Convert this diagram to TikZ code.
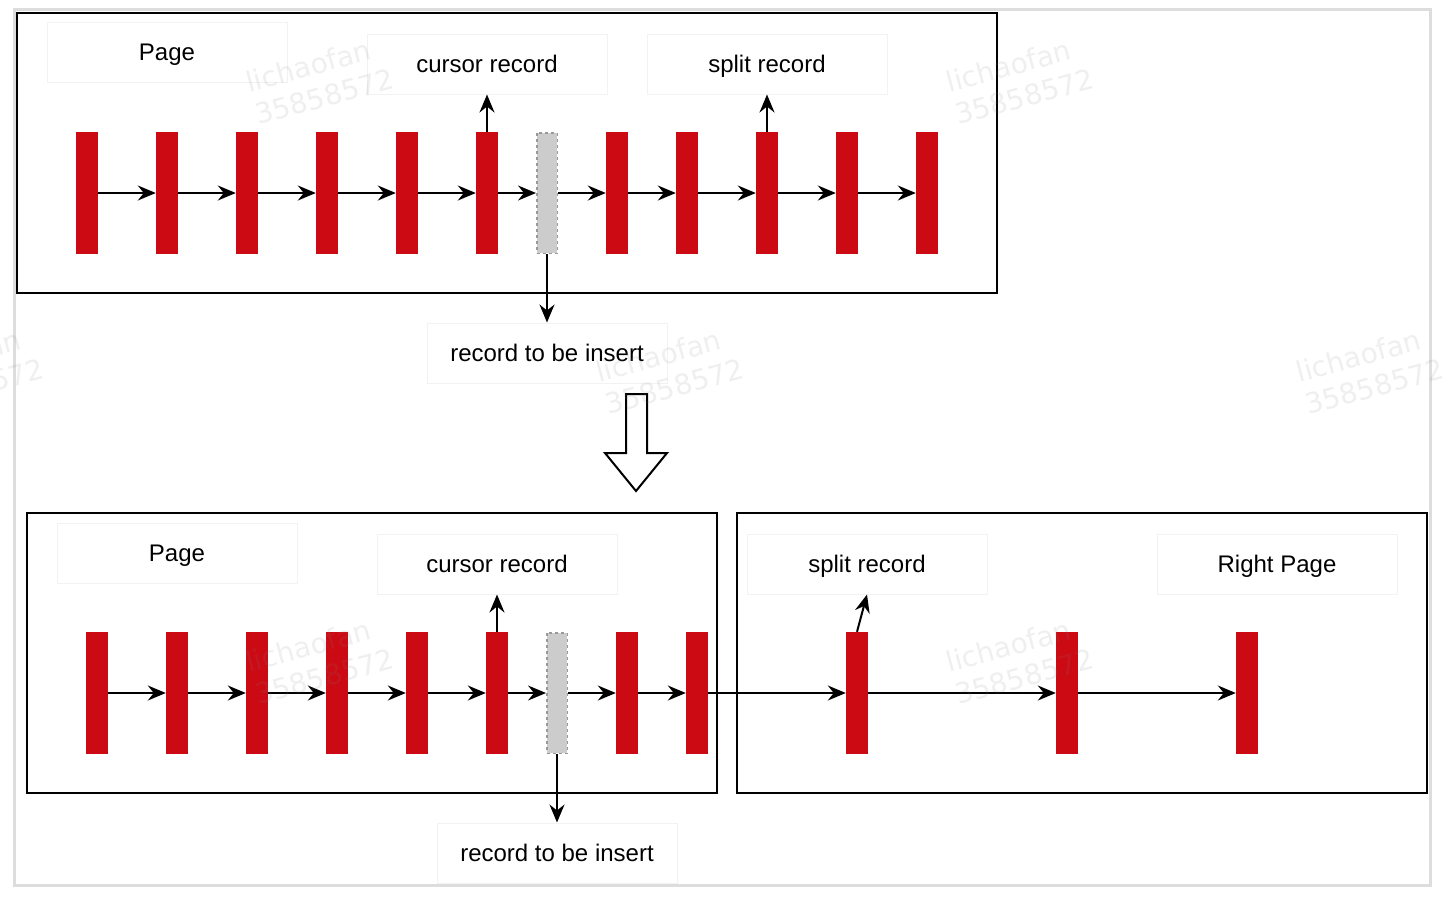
\documentclass[tikz,border=0pt]{standalone}
\usepackage{fontspec}
\setmainfont{Liberation Sans}
\newfontfamily\wmfont{DejaVu Sans}
\usetikzlibrary{arrows.meta}

\definecolor{recred}{HTML}{CC0A14}
\definecolor{newgray}{HTML}{CCCCCC}
\definecolor{newedge}{HTML}{999999}
\definecolor{framegray}{HTML}{DDDDDD}
\definecolor{lblgray}{HTML}{F2F2F2}

\tikzset{
  rec/.style={fill=recred, draw=none, minimum width=22pt, minimum height=122pt, inner sep=0pt},
  newrec/.style={fill=newgray, draw=newedge, dashed, line width=1.5pt, minimum width=20.5pt, minimum height=120.5pt, inner sep=0pt},
  pagebox/.style={draw=black, line width=2pt},
  lbl/.style={draw=lblgray, line width=1pt, minimum width=240pt, minimum height=60pt, inner sep=0pt,
    text height=17.2pt, text depth=0pt, font=\fontsize{24}{28}\selectfont},
  link/.style={-{Stealth[length=18pt,width=15pt,inset=6pt]}, line width=2pt},
  wmark/.style={text=gray, text opacity=0.12, rotate=15, align=left, font=\wmfont\fontsize{28}{34}\selectfont}
}

\begin{document}
\begin{tikzpicture}[x=1pt, y=-1pt]
\useasboundingbox (0,0) rectangle (1446,898);
\fill[white] (0,0) rectangle (1446,898);
\draw[framegray, line width=3pt] (14.5,9.5) rectangle (1430.5,885.5);

% page before the split
\draw[pagebox] (17,13) rectangle (997,293);
\node[lbl] (PageA) at (167,52) {Page};
\node[lbl] (CurA) at (487,64) {cursor record};
\node[lbl] (SplitA) at (767,64) {split record};
\node[lbl] (InsA) at (547,353) {record to be insert};
\foreach \n/\x in {A1/87,A2/167,A3/247,A4/327,A5/407,A6/487,A8/617,A9/687,A10/767,A11/847,A12/927}
  \node[rec] (\n) at (\x,193) {};
\node[newrec] (A7) at (547,193) {};
\foreach \a/\b in {A1/A2,A2/A3,A3/A4,A4/A5,A5/A6,A6/A7,A7/A8,A8/A9,A9/A10,A10/A11,A11/A12}
  \draw[link] (\a) -- (\b);
\draw[link] (A6.north) -- (CurA.south);
\draw[link] (A10.north) -- (SplitA.south);
\draw[link] (A7.south) -- (InsA.north);

% hollow arrow
\draw[line width=2pt, fill=white, line join=miter] (626,394) -- (647,394) -- (647,453) -- (667,453)
  -- (636,491) -- (605,453) -- (626,453) -- cycle;

% pages after the split
\draw[pagebox] (27,513) rectangle (717,793);
\draw[pagebox] (737,513) rectangle (1427,793);
\node[lbl] (PageB) at (177,553) {Page};
\node[lbl] (CurB) at (497,564) {cursor record};
\node[lbl] (SplitB) at (867,564) {split record};
\node[lbl] (RightB) at (1277,564) {Right Page};
\node[lbl] (InsB) at (557,853) {record to be insert};
\foreach \n/\x in {B1/97,B2/177,B3/257,B4/337,B5/417,B6/497,B8/627,B9/697,R1/857,R2/1067,R3/1247}
  \node[rec] (\n) at (\x,693) {};
\node[newrec] (B7) at (557,693) {};
\foreach \a/\b in {B1/B2,B2/B3,B3/B4,B4/B5,B5/B6,B6/B7,B7/B8,B8/B9,B9/R1,R1/R2,R2/R3}
  \draw[link] (\a) -- (\b);
\draw[link] (B6.north) -- (CurB.south);
\draw[link] (R1.north) -- (SplitB.south);
\draw[link] (B7.south) -- (InsB.north);

% watermarks
\foreach \x/\y in {320/80,1020/80,-30/370,670/370,1370/370,320/660,1020/660}
  \node[wmark] (W\x\y) at (\x,\y) {lichaofan\\35858572};
\end{tikzpicture}
\end{document}
